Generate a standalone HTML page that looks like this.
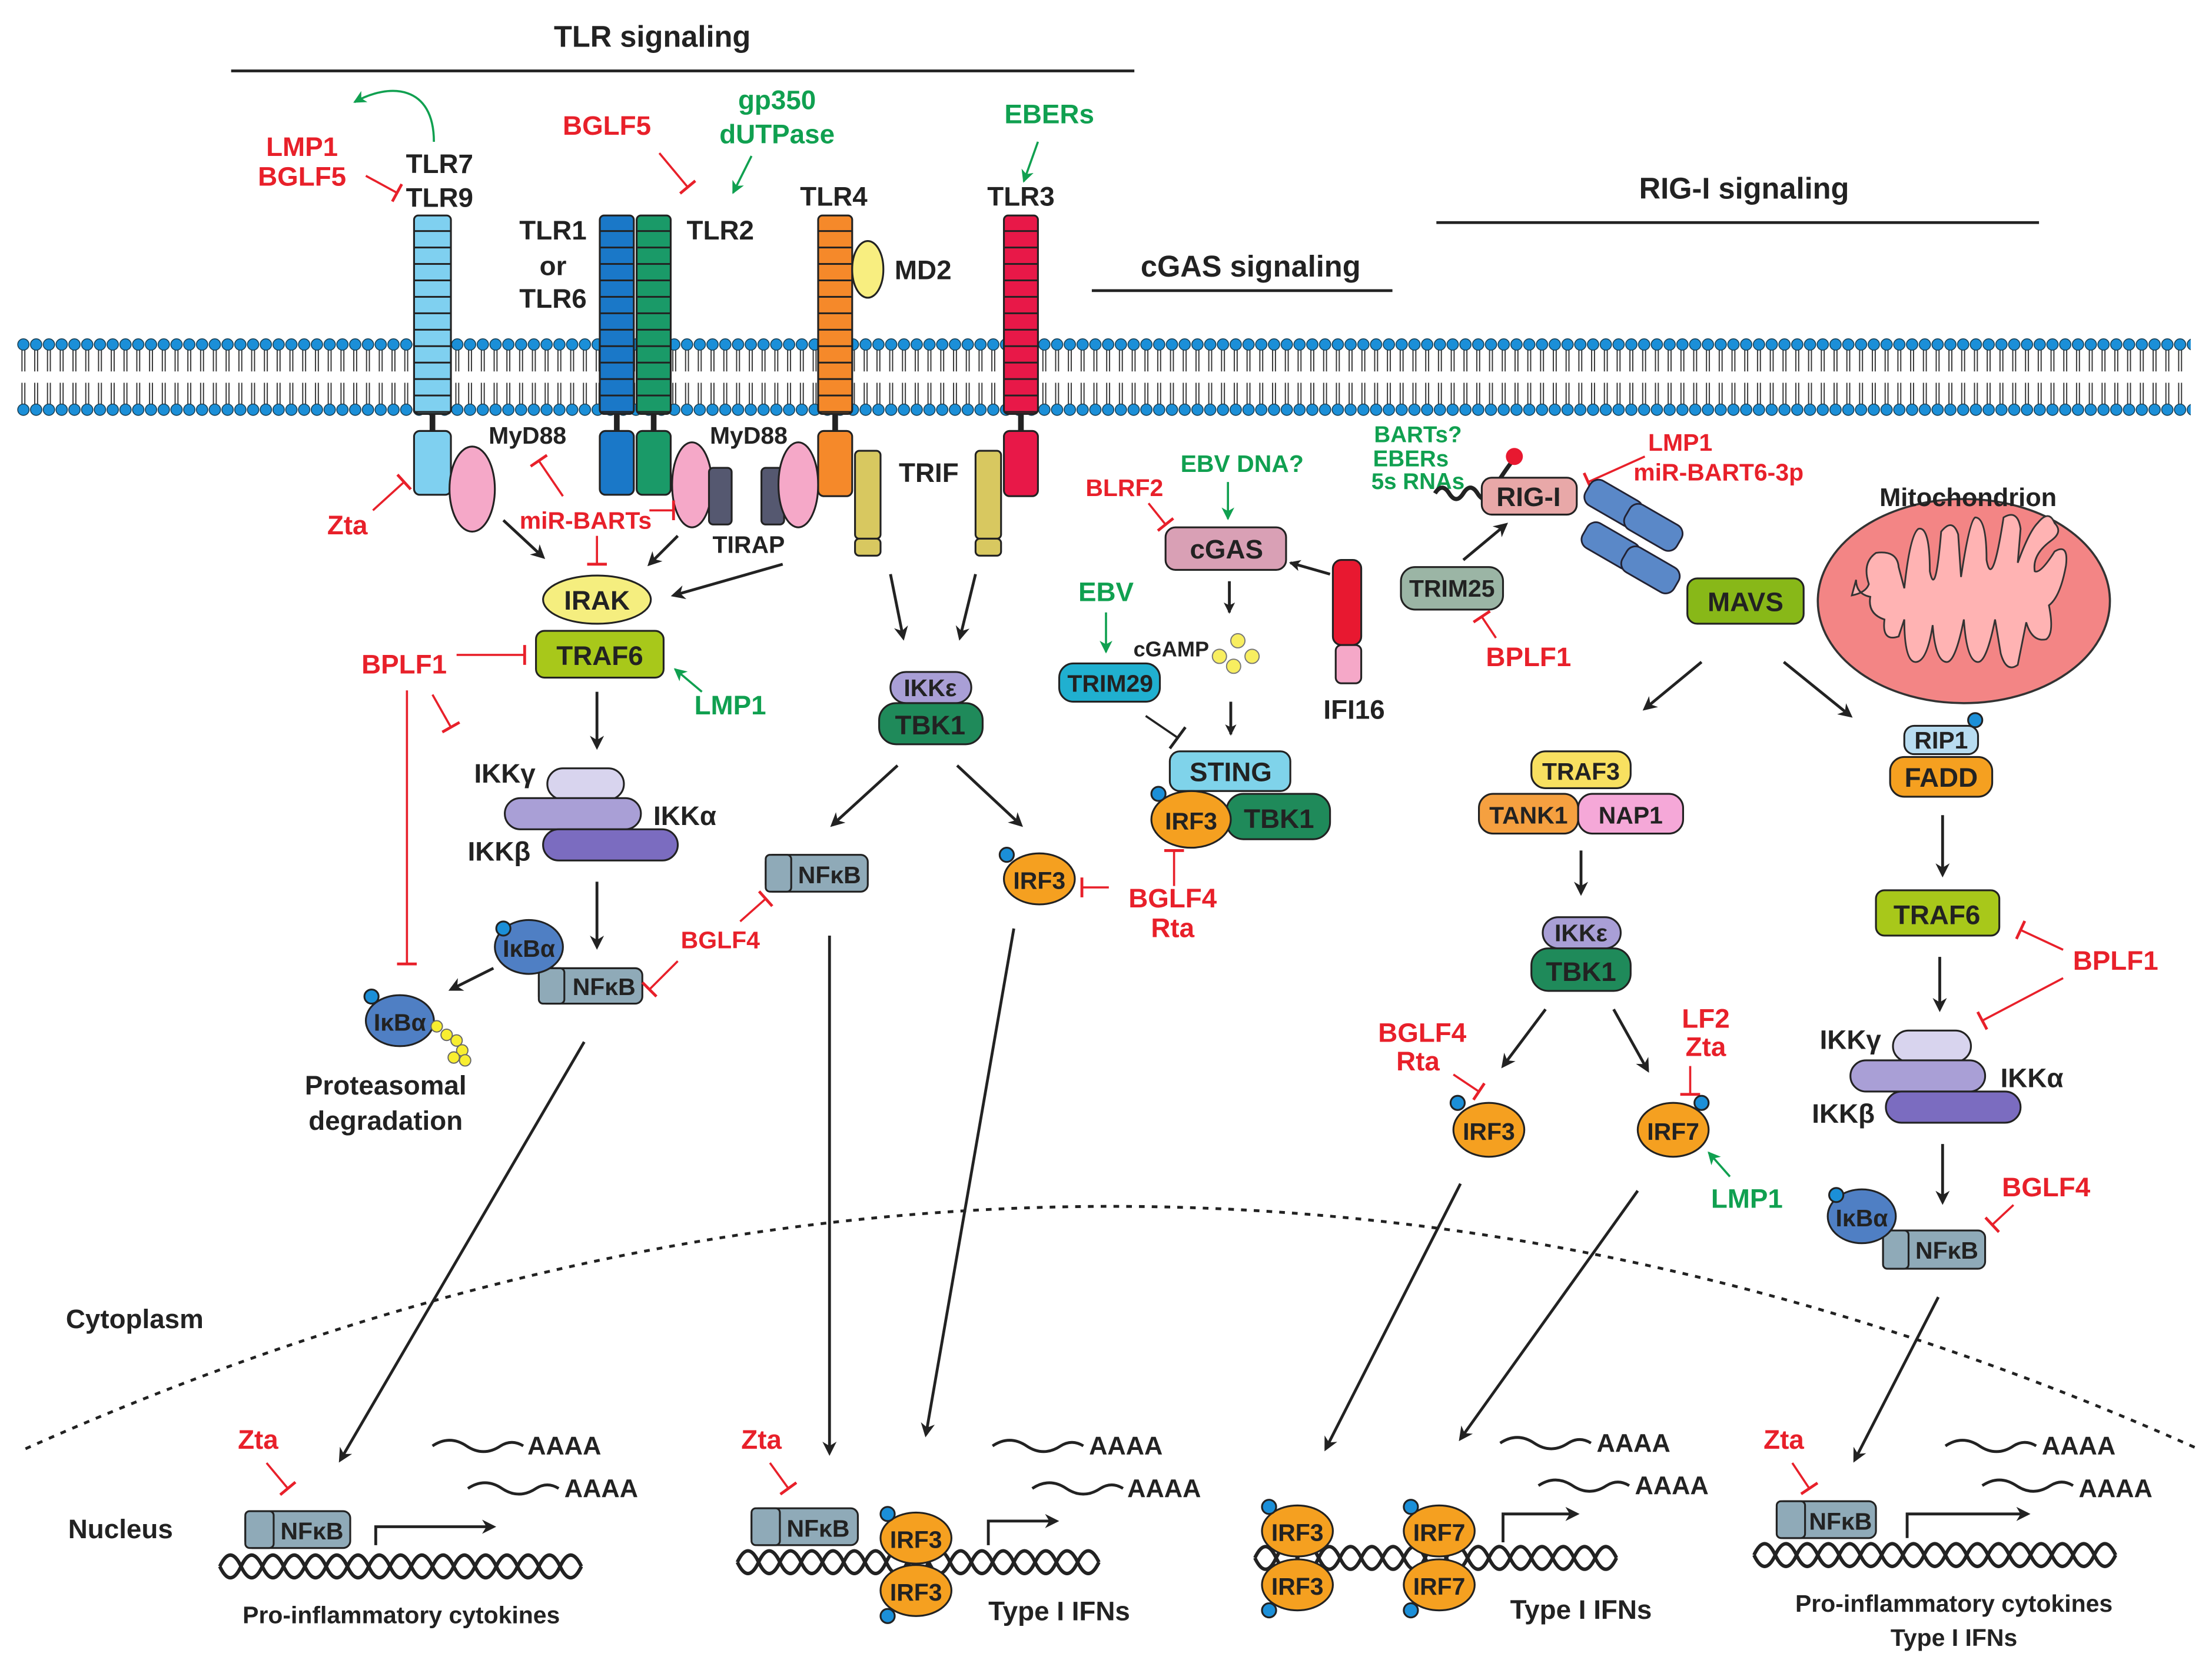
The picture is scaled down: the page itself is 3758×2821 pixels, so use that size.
<!DOCTYPE html>
<html><head><meta charset="utf-8"><style>
html,body{margin:0;padding:0;background:#fff}
svg{display:block}
text{font-family:"Liberation Sans",Arial,sans-serif;font-weight:bold}
.r{fill:#e8202a;font-size:19px}
.g{fill:#10a050;font-size:19px}
.k{fill:#222;font-size:19px}
.s{font-size:17px;fill:#222}
.b{stroke:#222;stroke-width:1.3}
</style></head><body>
<svg width="3758" height="2821" viewBox="0 0 1560 1171" xmlns="http://www.w3.org/2000/svg">
<defs>
<pattern id="mem" patternUnits="userSpaceOnUse" x="12" y="238" width="9" height="56">
<line x1="3.5" y1="9" x2="3.5" y2="24" stroke="#333" stroke-width="0.8"/><line x1="5.5" y1="9" x2="5.5" y2="24" stroke="#333" stroke-width="0.8"/>
<line x1="3.5" y1="32" x2="3.5" y2="47" stroke="#333" stroke-width="0.8"/><line x1="5.5" y1="32" x2="5.5" y2="47" stroke="#333" stroke-width="0.8"/>
<circle cx="4.5" cy="5" r="4" fill="#1b8fd8" stroke="#134" stroke-width="0.6"/>
<circle cx="4.5" cy="51" r="4" fill="#1b8fd8" stroke="#134" stroke-width="0.6"/>
</pattern>
<pattern id="pLB" patternUnits="userSpaceOnUse" y="152" width="40" height="11.6"><rect width="40" height="11.6" fill="#7fd0f0"/><line x1="0" y1="11" x2="40" y2="11" stroke="#222" stroke-width="1.3"/></pattern>
<pattern id="pB" patternUnits="userSpaceOnUse" y="152" width="40" height="11.6"><rect width="40" height="11.6" fill="#1a78c8"/><line x1="0" y1="11" x2="40" y2="11" stroke="#222" stroke-width="1.3"/></pattern>
<pattern id="pG" patternUnits="userSpaceOnUse" y="152" width="40" height="11.6"><rect width="40" height="11.6" fill="#1a9a68"/><line x1="0" y1="11" x2="40" y2="11" stroke="#222" stroke-width="1.3"/></pattern>
<pattern id="pO" patternUnits="userSpaceOnUse" y="152" width="40" height="11.6"><rect width="40" height="11.6" fill="#f5892a"/><line x1="0" y1="11" x2="40" y2="11" stroke="#222" stroke-width="1.3"/></pattern>
<pattern id="pR" patternUnits="userSpaceOnUse" y="152" width="40" height="11.6"><rect width="40" height="11.6" fill="#e81848"/><line x1="0" y1="11" x2="40" y2="11" stroke="#222" stroke-width="1.3"/></pattern>
<marker id="ah" markerWidth="10" markerHeight="10" refX="8" refY="5" orient="auto" markerUnits="userSpaceOnUse"><path d="M0,0 L10,5 L0,10 L3,5 z" fill="#222"/></marker>
<marker id="ahs" markerWidth="8" markerHeight="8" refX="7" refY="4" orient="auto" markerUnits="userSpaceOnUse"><path d="M0,0 L8,4 L0,8 L2,4 z" fill="#222"/></marker>
<marker id="ag" markerWidth="9" markerHeight="9" refX="8" refY="4.5" orient="auto" markerUnits="userSpaceOnUse"><path d="M0,0 L9,4.5 L0,9 L2.5,4.5 z" fill="#10a050"/></marker>
<marker id="tr" markerWidth="4" markerHeight="14" refX="2" refY="7" orient="auto" markerUnits="userSpaceOnUse"><line x1="2" y1="0" x2="2" y2="14" stroke="#e8202a" stroke-width="2"/></marker>
</defs>

<!-- headers -->
<text x="460" y="33" text-anchor="middle" class="k" style="font-size:21px">TLR signaling</text>
<line x1="163" y1="50" x2="800" y2="50" stroke="#222" stroke-width="2"/>
<text x="1230" y="140" text-anchor="middle" class="k" style="font-size:21px">RIG-I signaling</text>
<line x1="1013" y1="157" x2="1438" y2="157" stroke="#222" stroke-width="2"/>
<text x="882" y="195" text-anchor="middle" class="k" style="font-size:21px">cGAS signaling</text>
<line x1="770" y1="205" x2="982" y2="205" stroke="#222" stroke-width="2"/>

<!-- membrane -->
<rect x="12" y="238" width="1533" height="56" fill="url(#mem)"/>

<!-- TLR7/9 -->
<rect x="292" y="152" width="26" height="140" rx="3" fill="url(#pLB)" stroke="#222" stroke-width="1.3"/>
<rect x="303" y="292" width="4" height="12" fill="#222"/>
<rect x="292" y="304" width="26" height="45" rx="4" fill="#7fd0f0" class="b"/>
<ellipse cx="333" cy="345" rx="16" ry="30" fill="#f5a8c8" class="b"/>
<text x="213" y="110" text-anchor="middle" class="r">LMP1</text>
<text x="213" y="131" text-anchor="middle" class="r">BGLF5</text>
<line x1="258" y1="124" x2="280" y2="136" stroke="#e8202a" stroke-width="1.5" marker-end="url(#tr)"/>
<text x="310" y="122" text-anchor="middle" class="k">TLR7</text>
<text x="310" y="146" text-anchor="middle" class="k">TLR9</text>
<path d="M306,100 C306,60 275,58 250,72" fill="none" stroke="#10a050" stroke-width="1.5" marker-end="url(#ag)"/>
<text x="245" y="377" text-anchor="middle" class="r">Zta</text>
<line x1="263" y1="360" x2="285" y2="340" stroke="#e8202a" stroke-width="1.5" marker-end="url(#tr)"/>
<text x="372" y="313" text-anchor="middle" class="s">MyD88</text>

<!-- TLR1/2 -->
<rect x="423" y="152" width="24" height="140" rx="3" fill="url(#pB)" stroke="#222" stroke-width="1.3"/>
<rect x="449" y="152" width="24" height="140" rx="3" fill="url(#pG)" stroke="#222" stroke-width="1.3"/>
<rect x="433" y="292" width="4" height="12" fill="#222"/><rect x="459" y="292" width="4" height="12" fill="#222"/>
<rect x="423" y="304" width="24" height="45" rx="4" fill="#1a78c8" class="b"/>
<rect x="449" y="304" width="24" height="45" rx="4" fill="#1a9a68" class="b"/>
<text x="390" y="169" text-anchor="middle" class="k">TLR1</text>
<text x="390" y="194" text-anchor="middle" class="k">or</text>
<text x="390" y="217" text-anchor="middle" class="k">TLR6</text>
<text x="508" y="169" text-anchor="middle" class="k">TLR2</text>
<text x="428" y="95" text-anchor="middle" class="r">BGLF5</text>
<line x1="465" y1="108" x2="485" y2="132" stroke="#e8202a" stroke-width="1.5" marker-end="url(#tr)"/>
<text x="548" y="77" text-anchor="middle" class="g">gp350</text>
<text x="548" y="101" text-anchor="middle" class="g">dUTPase</text>
<line x1="530" y1="110" x2="517" y2="136" stroke="#10a050" stroke-width="1.5" marker-end="url(#ag)"/>
<text x="528" y="313" text-anchor="middle" class="s">MyD88</text>
<ellipse cx="488" cy="342" rx="14" ry="30" fill="#f5a8c8" class="b"/>
<rect x="500" y="330" width="16" height="40" rx="3" fill="#555870" class="b"/>
<rect x="537" y="330" width="16" height="40" rx="3" fill="#555870" class="b"/>
<ellipse cx="563" cy="342" rx="14" ry="30" fill="#f5a8c8" class="b"/>
<text x="528" y="390" text-anchor="middle" class="s">TIRAP</text>

<!-- TLR4 -->
<rect x="577" y="152" width="24" height="140" rx="3" fill="url(#pO)" stroke="#222" stroke-width="1.3"/>
<rect x="587" y="292" width="4" height="12" fill="#222"/>
<rect x="577" y="304" width="24" height="46" rx="4" fill="#f5892a" class="b"/>
<rect x="603" y="318" width="18" height="62" rx="3" fill="#d8c860" class="b"/>
<rect x="603" y="380" width="18" height="12" rx="3" fill="#d8c860" class="b"/>
<ellipse cx="612" cy="190" rx="11" ry="20" fill="#f8ee80" class="b"/>
<text x="588" y="145" text-anchor="middle" class="k">TLR4</text>
<text x="651" y="197" text-anchor="middle" class="k">MD2</text>
<text x="655" y="340" text-anchor="middle" class="k">TRIF</text>
<rect x="688" y="318" width="18" height="62" rx="3" fill="#d8c860" class="b"/>
<rect x="688" y="380" width="18" height="12" rx="3" fill="#d8c860" class="b"/>

<!-- TLR3 -->
<rect x="708" y="152" width="24" height="140" rx="3" fill="url(#pR)" stroke="#222" stroke-width="1.3"/>
<rect x="718" y="292" width="4" height="12" fill="#222"/>
<rect x="708" y="304" width="24" height="46" rx="4" fill="#e81848" class="b"/>
<text x="740" y="87" text-anchor="middle" class="g">EBERs</text>
<line x1="732" y1="100" x2="722" y2="128" stroke="#10a050" stroke-width="1.5" marker-end="url(#ag)"/>
<text x="720" y="145" text-anchor="middle" class="k">TLR3</text>

<!-- left pathway -->
<line x1="355" y1="367" x2="383" y2="393" stroke="#222" stroke-width="2" marker-end="url(#ah)"/>
<line x1="478" y1="378" x2="458" y2="398" stroke="#222" stroke-width="2" marker-end="url(#ah)"/>
<line x1="552" y1="398" x2="475" y2="420" stroke="#222" stroke-width="2" marker-end="url(#ah)"/>
<text x="413" y="373" text-anchor="middle" class="r" style="font-size:17px">miR-BARTs</text>
<line x1="397" y1="350" x2="380" y2="325" stroke="#e8202a" stroke-width="1.5" marker-end="url(#tr)"/>
<line x1="458" y1="360" x2="475" y2="360" stroke="#e8202a" stroke-width="1.5" marker-end="url(#tr)"/>
<line x1="421" y1="378" x2="421" y2="398" stroke="#e8202a" stroke-width="1.5" marker-end="url(#tr)"/>
<ellipse cx="421" cy="423" rx="38" ry="17" fill="#f5ee7f" class="b"/>
<text x="421" y="430" text-anchor="middle" class="k">IRAK</text>
<rect x="378" y="445" width="90" height="33" rx="6" fill="#a8c81a" class="b"/>
<text x="423" y="469" text-anchor="middle" class="k">TRAF6</text>
<text x="285" y="475" text-anchor="middle" class="r">BPLF1</text>
<line x1="322" y1="462" x2="370" y2="462" stroke="#e8202a" stroke-width="1.5" marker-end="url(#tr)"/>
<line x1="305" y1="490" x2="318" y2="513" stroke="#e8202a" stroke-width="1.5" marker-end="url(#tr)"/>
<line x1="287" y1="487" x2="287" y2="680" stroke="#e8202a" stroke-width="1.5" marker-end="url(#tr)"/>
<text x="515" y="504" text-anchor="middle" class="g">LMP1</text>
<line x1="495" y1="488" x2="476" y2="472" stroke="#10a050" stroke-width="1.5" marker-end="url(#ag)"/>
<line x1="421" y1="488" x2="421" y2="527" stroke="#222" stroke-width="2" marker-end="url(#ah)"/>
<rect x="386" y="542" width="54" height="22" rx="11" fill="#d8d4ee" class="b"/>
<rect x="356" y="563" width="96" height="22" rx="11" fill="#a99fd6" class="b"/>
<rect x="383" y="585" width="95" height="22" rx="11" fill="#7b6cc0" class="b"/>
<text x="356" y="552" text-anchor="middle" class="k">IKKγ</text>
<text x="483" y="582" text-anchor="middle" class="k">IKKα</text>
<text x="352" y="607" text-anchor="middle" class="k">IKKβ</text>
<line x1="421" y1="622" x2="421" y2="668" stroke="#222" stroke-width="2" marker-end="url(#ah)"/>
<rect x="380" y="683" width="73" height="25" rx="5" fill="#8faab8" class="b"/>
<rect x="380" y="683" width="18" height="25" rx="3" fill="#8faab8" class="b"/>
<text x="426" y="702" text-anchor="middle" class="s">NFκB</text>
<ellipse cx="373" cy="668" rx="24" ry="19" fill="#4f7fc4" class="b"/>
<circle cx="355" cy="655" r="5" fill="#1b8fd8" class="b"/>
<text x="373" y="675" text-anchor="middle" class="s">IκBα</text>
<text x="508" y="669" text-anchor="middle" class="r" style="font-size:17px">BGLF4</text>
<line x1="522" y1="650" x2="540" y2="634" stroke="#e8202a" stroke-width="1.5" marker-end="url(#tr)"/>
<line x1="478" y1="678" x2="458" y2="698" stroke="#e8202a" stroke-width="1.5" marker-end="url(#tr)"/>
<line x1="348" y1="683" x2="318" y2="698" stroke="#222" stroke-width="2" marker-end="url(#ah)"/>
<ellipse cx="282" cy="720" rx="24" ry="18" fill="#4f7fc4" class="b"/>
<circle cx="262" cy="703" r="5" fill="#1b8fd8" class="b"/>
<text x="282" y="727" text-anchor="middle" class="s">IκBα</text>
<g fill="#f8ee30" stroke="#666" stroke-width="0.8"><circle cx="308" cy="724" r="4"/><circle cx="315" cy="730" r="4"/><circle cx="322" cy="734" r="4"/><circle cx="326" cy="741" r="4"/><circle cx="320" cy="746" r="4"/><circle cx="328" cy="748" r="4"/></g>
<text x="272" y="772" text-anchor="middle" class="k">Proteasomal</text>
<text x="272" y="797" text-anchor="middle" class="k">degradation</text>

<!-- TRIF pathway -->
<line x1="628" y1="405" x2="637" y2="450" stroke="#222" stroke-width="2" marker-end="url(#ah)"/>
<line x1="688" y1="405" x2="677" y2="450" stroke="#222" stroke-width="2" marker-end="url(#ah)"/>
<rect x="628" y="474" width="57" height="22" rx="11" fill="#a99fd6" class="b"/>
<text x="656" y="491" text-anchor="middle" class="s">IKKε</text>
<rect x="620" y="496" width="73" height="29" rx="12" fill="#1f8a5a" class="b"/>
<text x="656" y="518" text-anchor="middle" class="k">TBK1</text>
<line x1="633" y1="540" x2="587" y2="582" stroke="#222" stroke-width="2" marker-end="url(#ah)"/>
<line x1="675" y1="540" x2="720" y2="582" stroke="#222" stroke-width="2" marker-end="url(#ah)"/>
<rect x="540" y="603" width="72" height="26" rx="5" fill="#8faab8" class="b"/>
<rect x="540" y="603" width="18" height="26" rx="3" fill="#8faab8" class="b"/>
<text x="585" y="623" text-anchor="middle" class="s">NFκB</text>
<ellipse cx="733" cy="620" rx="25" ry="18" fill="#f5a020" class="b"/>
<circle cx="710" cy="603" r="5" fill="#1b8fd8" class="b"/>
<text x="733" y="627" text-anchor="middle" class="s">IRF3</text>
<text x="827" y="640" text-anchor="middle" class="r">BGLF4</text>
<text x="827" y="661" text-anchor="middle" class="r">Rta</text>
<line x1="782" y1="626" x2="763" y2="626" stroke="#e8202a" stroke-width="1.5" marker-end="url(#tr)"/>

<!-- cGAS -->
<text x="793" y="350" text-anchor="middle" class="r" style="font-size:17px">BLRF2</text>
<line x1="810" y1="355" x2="822" y2="370" stroke="#e8202a" stroke-width="1.5" marker-end="url(#tr)"/>
<text x="876" y="333" text-anchor="middle" class="g" style="font-size:17px">EBV DNA?</text>
<line x1="866" y1="340" x2="866" y2="366" stroke="#10a050" stroke-width="1.5" marker-end="url(#ag)"/>
<rect x="822" y="372" width="85" height="30" rx="7" fill="#d9a0b5" class="b"/>
<text x="865" y="394" text-anchor="middle" class="k">cGAS</text>
<line x1="867" y1="410" x2="867" y2="432" stroke="#222" stroke-width="2" marker-end="url(#ahs)"/>
<line x1="938" y1="405" x2="910" y2="397" stroke="#222" stroke-width="2" marker-end="url(#ahs)"/>
<rect x="940" y="395" width="20" height="60" rx="6" fill="#e81830" class="b"/>
<rect x="942" y="455" width="18" height="27" rx="4" fill="#f5a8c8" class="b"/>
<text x="955" y="507" text-anchor="middle" class="k">IFI16</text>
<text x="826" y="463" text-anchor="middle" class="s" style="font-size:15px">cGAMP</text>
<g fill="#f8ee60" stroke="#777" stroke-width="0.8"><circle cx="860" cy="463" r="5"/><circle cx="873" cy="452" r="5"/><circle cx="883" cy="463" r="5"/><circle cx="870" cy="470" r="5"/></g>
<text x="780" y="424" text-anchor="middle" class="g">EBV</text>
<line x1="780" y1="432" x2="780" y2="460" stroke="#10a050" stroke-width="1.5" marker-end="url(#ag)"/>
<rect x="747" y="468" width="71" height="27" rx="10" fill="#20b0d0" class="b"/>
<text x="783" y="488" text-anchor="middle" class="s">TRIM29</text>
<line x1="808" y1="505" x2="830" y2="520" stroke="#222" stroke-width="1.5"/>
<line x1="825" y1="528" x2="836" y2="513" stroke="#222" stroke-width="2"/>
<line x1="868" y1="495" x2="868" y2="518" stroke="#222" stroke-width="2" marker-end="url(#ahs)"/>
<rect x="825" y="530" width="85" height="28" rx="7" fill="#7fd3ea" class="b"/>
<text x="868" y="551" text-anchor="middle" class="k">STING</text>
<rect x="865" y="560" width="73" height="32" rx="12" fill="#1f8a5a" class="b"/>
<text x="902" y="584" text-anchor="middle" class="k">TBK1</text>
<ellipse cx="840" cy="578" rx="28" ry="20" fill="#f5a020" class="b"/>
<circle cx="817" cy="560" r="5" fill="#1b8fd8" class="b"/>
<text x="840" y="585" text-anchor="middle" class="s">IRF3</text>
<line x1="828" y1="625" x2="828" y2="600" stroke="#e8202a" stroke-width="1.5" marker-end="url(#tr)"/>

<!-- RIG-I -->
<text x="1000" y="312" text-anchor="middle" class="g" style="font-size:16px">BARTs?</text>
<text x="995" y="329" text-anchor="middle" class="g" style="font-size:16px">EBERs</text>
<text x="1000" y="345" text-anchor="middle" class="g" style="font-size:16px">5s RNAs</text>
<path d="M1012,348 q5,-8 10,0 q5,8 10,0 q5,-8 10,0 q5,8 10,0 q5,-10 14,-22" fill="none" stroke="#222" stroke-width="3"/>
<circle cx="1068" cy="322" r="6" fill="#e81830"/>
<rect x="1045" y="337" width="67" height="26" rx="7" fill="#e8a8a8" class="b"/>
<text x="1078" y="357" text-anchor="middle" class="k">RIG-I</text>
<text x="1185" y="318" text-anchor="middle" class="r" style="font-size:17px">LMP1</text>
<text x="1212" y="339" text-anchor="middle" class="r" style="font-size:17px">miR-BART6-3p</text>
<line x1="1160" y1="322" x2="1120" y2="340" stroke="#e8202a" stroke-width="1.5" marker-end="url(#tr)"/>
<g fill="#5a88c8" stroke="#223" stroke-width="1.2">
<rect x="1117" y="345" width="42" height="20" rx="7" transform="rotate(30 1138 355)"/>
<rect x="1145" y="362" width="42" height="20" rx="7" transform="rotate(30 1166 372)"/>
<rect x="1115" y="375" width="42" height="20" rx="7" transform="rotate(30 1136 385)"/>
<rect x="1143" y="392" width="42" height="20" rx="7" transform="rotate(30 1164 402)"/>
</g>
<rect x="1190" y="408" width="82" height="32" rx="7" fill="#88b818" class="b"/>
<text x="1231" y="431" text-anchor="middle" class="k">MAVS</text>
<ellipse cx="1385" cy="424" rx="103" ry="72" fill="#f38585" stroke="#333" stroke-width="1.5"/>
<path d="M1306,420 q10,-2 12,-8 q-5,-15 5,-22 q15,-2 16,10 l4,15 q4,-38 10,-42 q8,-2 8,30 q4,20 8,-28 q8,-10 12,2 l2,30 q6,-40 10,-42 q8,0 8,30 q4,22 12,-30 q10,-6 12,8 l-2,24 q8,-22 14,-28 q8,-10 12,0 q6,6 -2,12 q-14,10 -12,22 q4,2 14,-14 q10,-6 8,10 q-4,22 -12,28 q4,20 -2,24 q-10,2 -14,-12 l-6,30 q-8,6 -12,-8 l-4,-24 q-6,30 -12,30 q-8,0 -10,-30 q-6,30 -12,30 q-8,0 -10,-26 q-4,26 -12,26 q-8,0 -8,-30 l-4,12 q-12,4 -10,-12 q-12,-4 -10,-16 q-10,-2 -10,-12 z" fill="#ffb3b3" stroke="#333" stroke-width="1.2"/>
<text x="1388" y="357" text-anchor="middle" class="k" style="font-size:18px">Mitochondrion</text>
<rect x="988" y="400" width="72" height="30" rx="10" fill="#9bb5a5" class="b"/>
<text x="1024" y="421" text-anchor="middle" class="s">TRIM25</text>
<line x1="1032" y1="395" x2="1062" y2="370" stroke="#222" stroke-width="2" marker-end="url(#ah)"/>
<text x="1078" y="470" text-anchor="middle" class="r">BPLF1</text>
<line x1="1055" y1="450" x2="1045" y2="435" stroke="#e8202a" stroke-width="1.5" marker-end="url(#tr)"/>
<line x1="1200" y1="467" x2="1160" y2="500" stroke="#222" stroke-width="2" marker-end="url(#ah)"/>
<line x1="1258" y1="467" x2="1305" y2="505" stroke="#222" stroke-width="2" marker-end="url(#ah)"/>
<rect x="1080" y="530" width="70" height="26" rx="10" fill="#f8e060" class="b"/>
<text x="1115" y="550" text-anchor="middle" class="s">TRAF3</text>
<rect x="1043" y="560" width="70" height="28" rx="10" fill="#f5a040" class="b"/>
<text x="1078" y="581" text-anchor="middle" class="s">TANK1</text>
<rect x="1113" y="560" width="74" height="28" rx="10" fill="#f5a8d8" class="b"/>
<text x="1150" y="581" text-anchor="middle" class="s">NAP1</text>
<line x1="1115" y1="600" x2="1115" y2="630" stroke="#222" stroke-width="2" marker-end="url(#ah)"/>
<rect x="1088" y="647" width="55" height="22" rx="11" fill="#a99fd6" class="b"/>
<text x="1115" y="664" text-anchor="middle" class="s">IKKε</text>
<rect x="1080" y="669" width="70" height="30" rx="12" fill="#1f8a5a" class="b"/>
<text x="1115" y="692" text-anchor="middle" class="k">TBK1</text>
<line x1="1090" y1="712" x2="1060" y2="752" stroke="#222" stroke-width="2" marker-end="url(#ah)"/>
<line x1="1138" y1="712" x2="1162" y2="755" stroke="#222" stroke-width="2" marker-end="url(#ah)"/>
<text x="1003" y="735" text-anchor="middle" class="r">BGLF4</text>
<text x="1000" y="755" text-anchor="middle" class="r">Rta</text>
<line x1="1025" y1="758" x2="1043" y2="770" stroke="#e8202a" stroke-width="1.5" marker-end="url(#tr)"/>
<ellipse cx="1050" cy="797" rx="25" ry="19" fill="#f5a020" class="b"/>
<circle cx="1028" cy="778" r="5" fill="#1b8fd8" class="b"/>
<text x="1050" y="804" text-anchor="middle" class="s">IRF3</text>
<text x="1203" y="725" text-anchor="middle" class="r">LF2</text>
<text x="1203" y="745" text-anchor="middle" class="r">Zta</text>
<line x1="1192" y1="752" x2="1192" y2="772" stroke="#e8202a" stroke-width="1.5" marker-end="url(#tr)"/>
<ellipse cx="1180" cy="797" rx="25" ry="19" fill="#f5a020" class="b"/>
<circle cx="1200" cy="778" r="5" fill="#1b8fd8" class="b"/>
<text x="1180" y="804" text-anchor="middle" class="s">IRF7</text>
<text x="1232" y="852" text-anchor="middle" class="g">LMP1</text>
<line x1="1220" y1="830" x2="1205" y2="813" stroke="#10a050" stroke-width="1.5" marker-end="url(#ag)"/>

<rect x="1343" y="512" width="52" height="20" rx="7" fill="#b8dcf0" class="b"/>
<text x="1369" y="528" text-anchor="middle" class="s">RIP1</text>
<circle cx="1393" cy="508" r="5" fill="#1b8fd8" class="b"/>
<rect x="1333" y="534" width="72" height="28" rx="10" fill="#f5a020" class="b"/>
<text x="1369" y="555" text-anchor="middle" class="k">FADD</text>
<line x1="1370" y1="575" x2="1370" y2="617" stroke="#222" stroke-width="2" marker-end="url(#ah)"/>
<rect x="1323" y="628" width="87" height="32" rx="6" fill="#a8c81a" class="b"/>
<text x="1366" y="652" text-anchor="middle" class="k">TRAF6</text>
<text x="1492" y="684" text-anchor="middle" class="r">BPLF1</text>
<line x1="1455" y1="670" x2="1425" y2="656" stroke="#e8202a" stroke-width="1.5" marker-end="url(#tr)"/>
<line x1="1455" y1="690" x2="1398" y2="720" stroke="#e8202a" stroke-width="1.5" marker-end="url(#tr)"/>
<line x1="1368" y1="675" x2="1368" y2="712" stroke="#222" stroke-width="2" marker-end="url(#ah)"/>
<rect x="1335" y="727" width="55" height="22" rx="11" fill="#d8d4ee" class="b"/>
<rect x="1305" y="748" width="95" height="22" rx="11" fill="#a99fd6" class="b"/>
<rect x="1330" y="770" width="95" height="22" rx="11" fill="#7b6cc0" class="b"/>
<text x="1305" y="740" text-anchor="middle" class="k">IKKγ</text>
<text x="1433" y="767" text-anchor="middle" class="k">IKKα</text>
<text x="1300" y="792" text-anchor="middle" class="k">IKKβ</text>
<line x1="1370" y1="807" x2="1370" y2="848" stroke="#222" stroke-width="2" marker-end="url(#ah)"/>
<rect x="1328" y="868" width="72" height="27" rx="5" fill="#8faab8" class="b"/>
<rect x="1328" y="868" width="18" height="27" rx="3" fill="#8faab8" class="b"/>
<text x="1373" y="888" text-anchor="middle" class="s">NFκB</text>
<ellipse cx="1313" cy="858" rx="24" ry="19" fill="#4f7fc4" class="b"/>
<circle cx="1295" cy="843" r="5" fill="#1b8fd8" class="b"/>
<text x="1313" y="865" text-anchor="middle" class="s">IκBα</text>
<text x="1443" y="844" text-anchor="middle" class="r">BGLF4</text>
<line x1="1420" y1="850" x2="1405" y2="864" stroke="#e8202a" stroke-width="1.5" marker-end="url(#tr)"/>

<!-- long arrows -->
<g stroke="#222" stroke-width="2" marker-end="url(#ah)">
<line x1="412" y1="735" x2="240" y2="1030"/>
<line x1="585" y1="660" x2="585" y2="1025"/>
<line x1="715" y1="655" x2="653" y2="1012"/>
<line x1="1030" y1="835" x2="935" y2="1022"/>
<line x1="1155" y1="840" x2="1030" y2="1015"/>
<line x1="1367" y1="915" x2="1308" y2="1030"/>
</g>

<!-- nucleus boundary -->
<path d="M18,1022 Q784,680 1550,1022" fill="none" stroke="#222" stroke-width="2" stroke-dasharray="4,5"/>
<text x="95" y="937" text-anchor="middle" class="k">Cytoplasm</text>
<text x="85" y="1085" text-anchor="middle" class="k">Nucleus</text>

<!-- DNA -->
<g fill="none" stroke="#222" stroke-width="2.5">
<path d="M155,1105 q7.5,-16 15,0 q7.5,16 15,0 q7.5,-16 15,0 q7.5,16 15,0 q7.5,-16 15,0 q7.5,16 15,0 q7.5,-16 15,0 q7.5,16 15,0 q7.5,-16 15,0 q7.5,16 15,0 q7.5,-16 15,0 q7.5,16 15,0 q7.5,-16 15,0 q7.5,16 15,0 q7.5,-16 15,0 q7.5,16 15,0 q7.5,-16 15,0"/>
<path d="M155,1105 q7.5,16 15,0 q7.5,-16 15,0 q7.5,16 15,0 q7.5,-16 15,0 q7.5,16 15,0 q7.5,-16 15,0 q7.5,16 15,0 q7.5,-16 15,0 q7.5,16 15,0 q7.5,-16 15,0 q7.5,16 15,0 q7.5,-16 15,0 q7.5,16 15,0 q7.5,-16 15,0 q7.5,16 15,0 q7.5,-16 15,0 q7.5,16 15,0"/>
<path d="M520,1102 q7.5,-16 15,0 q7.5,16 15,0 q7.5,-16 15,0 q7.5,16 15,0 q7.5,-16 15,0 q7.5,16 15,0 q7.5,-16 15,0 q7.5,16 15,0 q7.5,-16 15,0 q7.5,16 15,0 q7.5,-16 15,0 q7.5,16 15,0 q7.5,-16 15,0 q7.5,16 15,0 q7.5,-16 15,0 q7.5,16 15,0 q7.5,-16 15,0"/>
<path d="M520,1102 q7.5,16 15,0 q7.5,-16 15,0 q7.5,16 15,0 q7.5,-16 15,0 q7.5,16 15,0 q7.5,-16 15,0 q7.5,16 15,0 q7.5,-16 15,0 q7.5,16 15,0 q7.5,-16 15,0 q7.5,16 15,0 q7.5,-16 15,0 q7.5,16 15,0 q7.5,-16 15,0 q7.5,16 15,0 q7.5,-16 15,0 q7.5,16 15,0"/>
<path d="M885,1099 q7.5,-16 15,0 q7.5,16 15,0 q7.5,-16 15,0 q7.5,16 15,0 q7.5,-16 15,0 q7.5,16 15,0 q7.5,-16 15,0 q7.5,16 15,0 q7.5,-16 15,0 q7.5,16 15,0 q7.5,-16 15,0 q7.5,16 15,0 q7.5,-16 15,0 q7.5,16 15,0 q7.5,-16 15,0 q7.5,16 15,0 q7.5,-16 15,0"/>
<path d="M885,1099 q7.5,16 15,0 q7.5,-16 15,0 q7.5,16 15,0 q7.5,-16 15,0 q7.5,16 15,0 q7.5,-16 15,0 q7.5,16 15,0 q7.5,-16 15,0 q7.5,16 15,0 q7.5,-16 15,0 q7.5,16 15,0 q7.5,-16 15,0 q7.5,16 15,0 q7.5,-16 15,0 q7.5,16 15,0 q7.5,-16 15,0 q7.5,16 15,0"/>
<path d="M1237,1097 q7.5,-16 15,0 q7.5,16 15,0 q7.5,-16 15,0 q7.5,16 15,0 q7.5,-16 15,0 q7.5,16 15,0 q7.5,-16 15,0 q7.5,16 15,0 q7.5,-16 15,0 q7.5,16 15,0 q7.5,-16 15,0 q7.5,16 15,0 q7.5,-16 15,0 q7.5,16 15,0 q7.5,-16 15,0 q7.5,16 15,0 q7.5,-16 15,0"/>
<path d="M1237,1097 q7.5,16 15,0 q7.5,-16 15,0 q7.5,16 15,0 q7.5,-16 15,0 q7.5,16 15,0 q7.5,-16 15,0 q7.5,16 15,0 q7.5,-16 15,0 q7.5,16 15,0 q7.5,-16 15,0 q7.5,16 15,0 q7.5,-16 15,0 q7.5,16 15,0 q7.5,-16 15,0 q7.5,16 15,0 q7.5,-16 15,0 q7.5,16 15,0"/>
</g>

<!-- mRNAs -->
<g fill="none" stroke="#222" stroke-width="2">
<path d="M305,1020 q12,-8 24,0 q12,8 24,0 q8,-5 16,0"/><path d="M330,1050 q12,-8 24,0 q12,8 24,0 q8,-5 16,0"/>
<path d="M700,1020 q12,-8 24,0 q12,8 24,0 q8,-5 16,0"/><path d="M728,1050 q12,-8 24,0 q12,8 24,0 q8,-5 16,0"/>
<path d="M1058,1018 q12,-8 24,0 q12,8 24,0 q8,-5 16,0"/><path d="M1085,1048 q12,-8 24,0 q12,8 24,0 q8,-5 16,0"/>
<path d="M1372,1020 q12,-8 24,0 q12,8 24,0 q8,-5 16,0"/><path d="M1398,1048 q12,-8 24,0 q12,8 24,0 q8,-5 16,0"/>
</g>
<g class="k" style="font-size:18px">
<text x="372" y="1026">AAAA</text><text x="398" y="1056">AAAA</text>
<text x="768" y="1026">AAAA</text><text x="795" y="1056">AAAA</text>
<text x="1126" y="1024">AAAA</text><text x="1153" y="1054">AAAA</text>
<text x="1440" y="1026">AAAA</text><text x="1466" y="1056">AAAA</text>
</g>

<!-- nucleus 1 -->
<text x="182" y="1022" text-anchor="middle" class="r">Zta</text>
<line x1="188" y1="1032" x2="203" y2="1050" stroke="#e8202a" stroke-width="1.5" marker-end="url(#tr)"/>
<rect x="173" y="1066" width="74" height="26" rx="5" fill="#8faab8" class="b"/>
<rect x="173" y="1066" width="20" height="26" rx="3" fill="#8faab8" class="b"/>
<text x="220" y="1086" text-anchor="middle" class="s">NFκB</text>
<path d="M265,1090 V1077 H348" fill="none" stroke="#222" stroke-width="2" marker-end="url(#ah)"/>
<text x="283" y="1145" text-anchor="middle" class="s">Pro-inflammatory cytokines</text>
<!-- nucleus 2 -->
<text x="537" y="1022" text-anchor="middle" class="r">Zta</text>
<line x1="543" y1="1032" x2="556" y2="1050" stroke="#e8202a" stroke-width="1.5" marker-end="url(#tr)"/>
<rect x="530" y="1064" width="75" height="26" rx="5" fill="#8faab8" class="b"/>
<rect x="530" y="1064" width="20" height="26" rx="3" fill="#8faab8" class="b"/>
<text x="577" y="1084" text-anchor="middle" class="s">NFκB</text>
<ellipse cx="646" cy="1085" rx="25" ry="18" fill="#f5a020" class="b"/>
<ellipse cx="646" cy="1122" rx="25" ry="18" fill="#f5a020" class="b"/>
<circle cx="626" cy="1068" r="5" fill="#1b8fd8" class="b"/><circle cx="626" cy="1140" r="5" fill="#1b8fd8" class="b"/>
<text x="646" y="1092" text-anchor="middle" class="s">IRF3</text><text x="646" y="1129" text-anchor="middle" class="s">IRF3</text>
<path d="M697,1090 V1073 H745" fill="none" stroke="#222" stroke-width="2" marker-end="url(#ah)"/>
<text x="747" y="1143" text-anchor="middle" class="k">Type I IFNs</text>
<!-- nucleus 3 -->
<ellipse cx="915" cy="1080" rx="25" ry="18" fill="#f5a020" class="b"/>
<ellipse cx="915" cy="1118" rx="25" ry="18" fill="#f5a020" class="b"/>
<ellipse cx="1015" cy="1080" rx="25" ry="18" fill="#f5a020" class="b"/>
<ellipse cx="1015" cy="1118" rx="25" ry="18" fill="#f5a020" class="b"/>
<circle cx="895" cy="1063" r="5" fill="#1b8fd8" class="b"/><circle cx="895" cy="1136" r="5" fill="#1b8fd8" class="b"/>
<circle cx="995" cy="1063" r="5" fill="#1b8fd8" class="b"/><circle cx="995" cy="1136" r="5" fill="#1b8fd8" class="b"/>
<text x="915" y="1087" text-anchor="middle" class="s">IRF3</text><text x="915" y="1125" text-anchor="middle" class="s">IRF3</text>
<text x="1015" y="1087" text-anchor="middle" class="s">IRF7</text><text x="1015" y="1125" text-anchor="middle" class="s">IRF7</text>
<path d="M1060,1088 V1068 H1112" fill="none" stroke="#222" stroke-width="2" marker-end="url(#ah)"/>
<text x="1115" y="1142" text-anchor="middle" class="k">Type I IFNs</text>
<!-- nucleus 4 -->
<text x="1258" y="1022" text-anchor="middle" class="r">Zta</text>
<line x1="1264" y1="1032" x2="1276" y2="1050" stroke="#e8202a" stroke-width="1.5" marker-end="url(#tr)"/>
<rect x="1253" y="1059" width="70" height="26" rx="5" fill="#8faab8" class="b"/>
<rect x="1253" y="1059" width="20" height="26" rx="3" fill="#8faab8" class="b"/>
<text x="1298" y="1079" text-anchor="middle" class="s">NFκB</text>
<path d="M1345,1085 V1068 H1430" fill="none" stroke="#222" stroke-width="2" marker-end="url(#ah)"/>
<text x="1378" y="1137" text-anchor="middle" class="s">Pro-inflammatory cytokines</text>
<text x="1378" y="1161" text-anchor="middle" class="s">Type I IFNs</text>
</svg>
</body></html>
